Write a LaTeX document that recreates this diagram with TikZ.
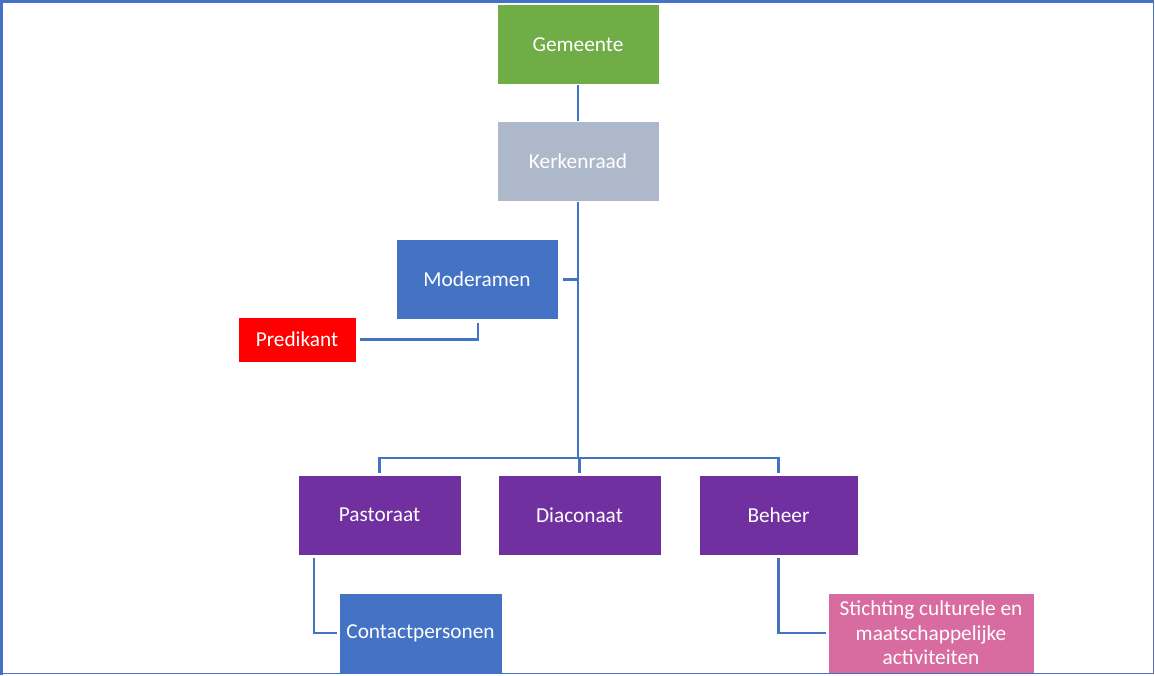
\documentclass[tikz,border=0pt]{standalone}
\usepackage{fontspec}
\setmainfont{Carlito}
\usetikzlibrary{positioning}

\definecolor{linkblue}{HTML}{4472C4}
\definecolor{gemgreen}{HTML}{70AD47}
\definecolor{raadgrey}{HTML}{ADB9CA}
\definecolor{taakpurple}{HTML}{7030A0}
\definecolor{stichtpink}{HTML}{D86CA0}

\tikzset{
	orgbox/.style={draw=white, line width=0.4pt, text=white, align=center,
		minimum width=162pt, minimum height=80pt, inner sep=2pt,
		font=\fontsize{21.3}{24.5}\selectfont},
	link/.style={draw=linkblue, line width=2.4pt}
}

\begin{document}
\begin{tikzpicture}[x=1pt, y=-1pt]
	\useasboundingbox (0,0) rectangle (1155,675);

	\node [orgbox, fill=gemgreen] (gemeente) at (578, 44.5) {Gemeente};
	\node [orgbox, fill=raadgrey] (kerkenraad) at (578, 161.5) {Kerkenraad};
	\node [orgbox, fill=linkblue] (moderamen) at (477, 279.5) {Moderamen};
	\node [orgbox, fill=red, minimum width=118pt, minimum height=45pt]
		(predikant) at (297, 339.5) {Predikant};

	\node [orgbox, fill=taakpurple, minimum width=163pt] (pastoraat) at (379.5, 515) {Pastoraat};
	\node [orgbox, fill=taakpurple, minimum width=163pt] (diaconaat) at (579.5, 515) {Diaconaat};
	\node [orgbox, fill=taakpurple, minimum width=159pt] (beheer) at (778.5, 515) {Beheer};

	\node [orgbox, fill=linkblue, minimum width=163pt] (contact) at (420.5, 633) {Contactpersonen};
	\node [orgbox, fill=stichtpink, minimum width=206pt] (stichting) at (931, 633)
		{Stichting culturele en\\maatschappelijke\\activiteiten};

	\coordinate (bus) at (578, 458);

	\draw
		[link] (gemeente.south) -- (kerkenraad.north);

	\draw
		[link] (kerkenraad.south) -- (bus);

	\draw
		[link] ([xshift=5pt]moderamen.east) -- (moderamen.east -| kerkenraad.south);

	\draw
		[link] ([xshift=1pt, yshift=-3pt]moderamen.south) |- ([xshift=4pt]predikant.east);

	\foreach \n in {pastoraat, diaconaat, beheer}
		\draw
			[link] (bus) -| ([yshift=2pt]\n.north);

	\draw
		[link] ([xshift=16pt, yshift=-3pt]pastoraat.south west) |- ([xshift=-2pt]contact.west);

	\draw
		[link] ([yshift=-3pt]beheer.south) |- ([xshift=-2pt]stichting.west);

	% frame round the chart
	\draw
		[draw=linkblue, line width=3pt] (1.5, 675) -- (1.5, 1.5) -- (1154, 1.5);
	\draw
		[draw=linkblue, line width=1.3pt] (1153.5, 1.5) -- (1153.5, 673.5) -- (1.5, 673.5);

\end{tikzpicture}
\end{document}
